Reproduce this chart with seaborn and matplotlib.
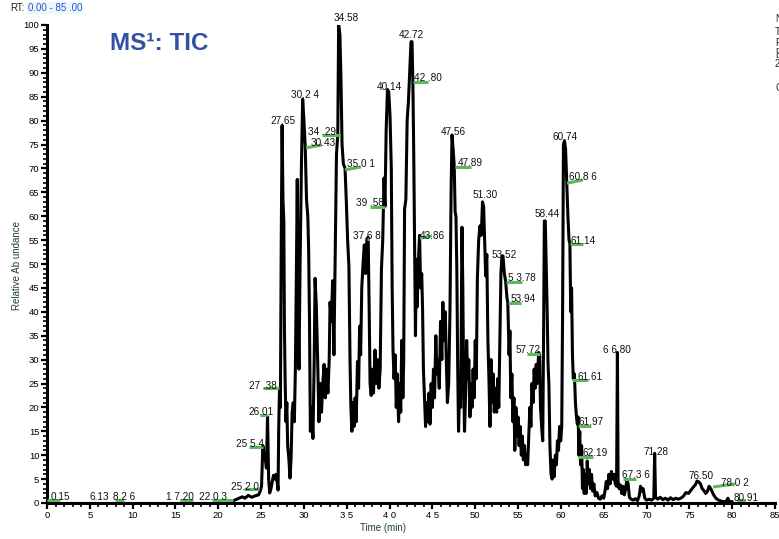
import matplotlib
matplotlib.use("Agg")
import matplotlib.pyplot as plt
import seaborn as sns
import pandas as pd

# ---------------- data ----------------
time_min = [21.8, 22.3, 22.8, 23.1, 23.5, 23.9, 24.3, 24.7, 24.9, 25.05, 25.2, 25.35, 25.5, 25.62, 25.75, 25.88,
            26.0, 26.15, 26.3, 26.45, 26.6, 26.75, 26.9, 26.98, 27.05, 27.15, 27.25, 27.35, 27.45, 27.55, 27.65,
            27.72, 27.8, 27.9, 28.0, 28.1, 28.25, 28.37, 28.5, 28.62, 28.75, 28.88, 29.0, 29.1, 29.22, 29.32,
            29.42, 29.55, 29.7, 29.85, 30.0, 30.15, 30.3, 30.45, 30.55, 30.65, 30.75, 30.9, 31.05, 31.2, 31.3,
            31.45, 31.6, 31.75, 31.9, 32.05, 32.2, 32.35, 32.5, 32.65, 32.8, 32.95, 33.05, 33.2, 33.35, 33.5,
            33.65, 33.8, 33.95, 34.05, 34.2, 34.33, 34.45, 34.6, 34.8, 34.95, 35.1, 35.25, 35.38, 35.48, 35.6,
            35.72, 35.85, 35.98, 36.1, 36.25, 36.38, 36.5, 36.62, 36.75, 36.9, 37.05, 37.2, 37.35, 37.5, 37.62,
            37.72, 37.85, 38.0, 38.12, 38.3, 38.45, 38.6, 38.75, 38.9, 39.05, 39.2, 39.35, 39.46, 39.6, 39.75,
            39.9, 40.05, 40.2, 40.3, 40.4, 40.52, 40.65, 40.78, 40.9, 41.05, 41.18, 41.3, 41.42, 41.55, 41.65,
            41.75, 41.9, 42.05, 42.2, 42.35, 42.5, 42.62, 42.72, 42.82, 42.92, 43.02, 43.12, 43.22, 43.35, 43.5,
            43.62, 43.75, 43.85, 43.95, 44.08, 44.2, 44.32, 44.45, 44.6, 44.72, 44.85, 45.0, 45.12, 45.25, 45.4,
            45.52, 45.65, 45.8, 45.95, 46.1, 46.22, 46.35, 46.5, 46.62, 46.75, 46.9, 47.05, 47.18, 47.29, 47.42,
            47.55, 47.65, 47.75, 47.85, 47.95, 48.05, 48.15, 48.3, 48.45, 48.55, 48.65, 48.75, 48.88, 49.0,
            49.12, 49.25, 49.38, 49.5, 49.62, 49.75, 49.88, 50.0, 50.12, 50.25, 50.4, 50.55, 50.7, 50.85, 50.98,
            51.1, 51.22, 51.35, 51.48, 51.6, 51.72, 51.85, 51.98, 52.1, 52.22, 52.35, 52.5, 52.62, 52.75, 52.88,
            53.0, 53.12, 53.24, 53.4, 53.55, 53.7, 53.8, 53.95, 54.05, 54.15, 54.28, 54.4, 54.52, 54.62, 54.75,
            54.88, 55.0, 55.12, 55.25, 55.38, 55.5, 55.62, 55.75, 55.88, 56.0, 56.12, 56.25, 56.38, 56.5, 56.62,
            56.75, 56.88, 57.0, 57.12, 57.25, 57.4, 57.52, 57.62, 57.75, 57.88, 57.98, 58.07, 58.18, 58.3, 58.4,
            58.5, 58.6, 58.72, 58.85, 58.98, 59.1, 59.22, 59.35, 59.48, 59.6, 59.72, 59.85, 59.98, 60.1, 60.2,
            60.3, 60.42, 60.55, 60.68, 60.82, 60.95, 61.05, 61.15, 61.25, 61.35, 61.45, 61.58, 61.7, 61.82,
            61.92, 62.02, 62.1, 62.2, 62.3, 62.42, 62.52, 62.62, 62.72, 62.85, 62.95, 63.08, 63.2, 63.32, 63.45,
            63.58, 63.7, 63.85, 64.0, 64.2, 64.4, 64.6, 64.8, 65.0, 65.15, 65.3, 65.45, 65.6, 65.75, 65.9, 66.05,
            66.2, 66.35, 66.5, 66.6, 66.68, 66.8, 66.95, 67.1, 67.25, 67.4, 67.55, 67.7, 67.85, 68.0, 68.2,
            68.45, 68.7, 68.95, 69.15, 69.3, 69.45, 69.6, 69.8, 70.0, 70.3, 70.6, 70.85, 70.95, 71.05, 71.3,
            71.6, 71.9, 72.2, 72.5, 72.8, 73.1, 73.4, 73.7, 74.0, 74.3, 74.6, 74.9, 75.2, 75.45, 75.7, 75.9,
            76.1, 76.3, 76.5, 76.7, 76.9, 77.1, 77.3, 77.5, 77.7, 77.9, 78.1, 78.4, 78.7, 79.0, 79.3, 79.5,
            79.65, 80.0]
rel_abundance = [0.5, 0.9, 1.3, 1.0, 1.6, 1.2, 1.5, 1.7, 2.5, 3.5, 12.0, 10.0, 9.0, 7.3, 18.0, 5.0,
                 2.1, 3.0, 4.5, 5.8, 5.0, 6.0, 4.0, 2.7, 15.0, 24.0, 20.0, 55.0, 79.0, 63.5, 59.0,
                 37.0, 26.0, 17.0, 21.0, 12.0, 9.0, 5.2, 9.4, 19.0, 21.0, 17.0, 28.0, 45.0, 67.7, 40.0,
                 28.0, 50.0, 70.0, 84.5, 80.0, 74.6, 63.5, 60.0, 53.0, 38.0, 15.0, 20.0, 13.5, 30.0, 47.0,
                 41.0, 30.0, 17.0, 25.0, 19.0, 25.0, 29.0, 22.0, 28.0, 23.0, 30.0, 42.0, 38.0, 46.5, 31.0,
                 52.0, 73.0, 77.0, 100.0, 98.0, 88.0, 75.0, 71.0, 70.0, 63.0, 55.0, 49.5, 30.0, 20.0, 15.0,
                 21.0, 16.0, 22.0, 17.0, 29.6, 24.0, 37.0, 31.0, 45.0, 50.0, 54.0, 48.0, 55.0, 55.6, 40.0,
                 25.0, 22.5, 28.0, 23.0, 32.0, 25.0, 30.0, 24.0, 28.0, 49.0, 55.0, 68.0, 62.0, 78.0, 86.5,
                 86.0, 81.0, 70.0, 45.0, 32.0, 26.0, 31.0, 20.0, 27.0, 17.0, 25.0, 19.0, 34.0, 22.0, 30.0,
                 61.5, 63.5, 80.0, 84.0, 90.0, 96.5, 96.5, 88.0, 73.0, 55.0, 35.0, 51.0, 41.0, 50.0, 56.0,
                 45.0, 48.0, 40.6, 28.0, 22.0, 16.0, 21.0, 17.0, 23.0, 16.5, 25.0, 20.0, 28.0, 22.0, 35.0,
                 27.0, 30.0, 24.0, 38.0, 30.0, 42.0, 34.0, 40.0, 30.0, 21.0, 25.0, 40.0, 65.0, 77.0, 74.0,
                 70.4, 61.0, 60.0, 49.0, 29.0, 15.0, 22.0, 20.0, 57.7, 45.0, 25.0, 15.0, 23.0, 34.0,
                 26.0, 30.0, 18.0, 25.0, 20.0, 28.0, 22.0, 34.0, 26.0, 47.0, 55.0, 58.0, 56.0, 63.0, 62.0,
                 55.0, 47.5, 52.0, 34.0, 26.0, 16.0, 30.0, 21.0, 27.0, 19.0, 24.0, 19.0, 26.0, 20.0, 35.0,
                 48.0, 51.7, 51.7, 48.0, 46.4, 43.0, 42.0, 31.0, 36.0, 22.0, 27.0, 17.0, 22.0, 11.0, 20.0,
                 14.0, 18.0, 12.0, 16.0, 10.0, 14.0, 9.0, 12.0, 8.0, 10.0, 8.0, 14.0, 20.0, 16.0, 25.0,
                 21.0, 28.0, 24.0, 29.0, 25.0, 31.5, 31.0, 20.0, 16.0, 13.0, 35.0, 59.0, 59.0, 48.5, 40.0,
                 29.0, 25.0, 12.0, 6.0, 5.0, 9.0, 5.5, 10.0, 8.0, 13.0, 11.0, 16.0, 13.0, 16.0, 40.0,
                 75.0, 75.8, 74.0, 67.0, 60.0, 55.0, 54.4, 40.0, 45.0, 31.0, 26.0, 27.0, 21.0, 18.0,
                 16.5, 18.0, 10.0, 15.0, 8.0, 12.0, 3.0, 7.0, 2.0, 6.0, 2.0, 8.8, 4.0, 7.0, 3.0,
                 6.0, 2.5, 4.0, 1.5, 2.2, 1.0, 0.8, 1.5, 1.0, 2.5, 4.5, 3.0, 6.0, 4.0, 6.6, 5.0,
                 6.0, 4.0, 3.5, 31.5, 4.5, 3.0, 3.8, 2.0, 3.5, 1.7, 2.8, 4.8, 4.0, 1.2, 0.8,
                 0.6, 0.9, 0.5, 1.5, 3.5, 2.5, 3.0, 1.0, 0.6, 0.8, 0.6, 1.0, 10.4, 1.2, 0.8,
                 1.2, 0.7, 1.0, 0.6, 1.1, 0.7, 1.0, 0.8, 1.0, 1.4, 2.2, 2.0, 2.7, 3.3, 3.8, 4.6,
                 4.4, 4.0, 3.0, 2.6, 2.0, 2.4, 3.5, 3.0, 2.2, 1.5, 1.0, 0.6, 0.4, 0.3, 0.3, 1.0,
                 0.3, 0.3]

baseline_left_time = [0.0, 21.8]
baseline_right_time = [80.0, 85.0]
baseline_level = [0.3, 0.3]

peak_text = ["0.15", "6.13", "8.2 6", "1 7.20", "22.0 3", "25.2 0", "25 5.4", "26.01", "27 .38", "27.65",
             "30.2 4", "34 .29", "30.43", "34.58", "35.0 1", "39 .58", "37.6 8", "40.14", "42.72", "42 .80",
             "43.86", "47.56", "47.89", "51.30", "53.52", "5 3.78", "53.94", "57.72", "58.44", "60.74",
             "60.8 6", "61.14", "61.61", "61.97", "62.19", "6 6.80", "67.3 6", "71.28", "76.50", "78.0 2",
             "80.91"]
peak_text_time = [1.52, 6.07, 8.99, 15.53, 19.38, 23.12, 23.70, 24.99, 25.22, 27.55,
                  30.12, 32.11, 32.22, 34.91, 36.66, 37.71, 37.36, 39.93, 42.50, 44.48,
                  44.95, 47.40, 49.39, 51.14, 53.36, 55.46, 55.58, 56.16, 58.38, 60.48,
                  62.58, 62.58, 63.40, 63.51, 63.98, 66.55, 68.77, 71.11, 76.36, 80.33,
                  81.61]
peak_text_abund = [1.3, 1.3, 1.3, 1.3, 1.3, 3.35, 12.3, 19.0, 24.5, 79.9,
                   85.4, 77.6, 75.3, 101.5, 70.9, 62.8, 55.9, 87.0, 97.9, 88.9,
                   55.9, 77.6, 71.1, 64.4, 51.9, 47.1, 42.7, 32.0, 60.5, 76.6,
                   68.2, 54.8, 26.4, 16.9, 10.5, 32.0, 5.9, 10.7, 5.6, 4.2,
                   1.05]

# green peak markers: start time/abundance, end time/abundance
marker_t0 = [0.0, 7.94, 15.53, 19.26, 23.0, 23.58, 24.87, 25.22, 32.11, 30.24, 34.79, 37.71, 37.36,
             42.73, 43.55, 47.64, 60.71, 61.06, 53.59, 53.82, 56.04, 61.3, 62.0, 62.0, 67.25, 77.76, 80.56]
marker_v0 = [0.63, 0.63, 0.63, 0.63, 2.9, 11.7, 18.4, 24.1, 77.0, 74.3, 69.7, 61.9, 55.2,
             88.1, 55.4, 70.3, 66.9, 54.2, 46.2, 41.8, 31.2, 25.7, 16.1, 9.6, 5.0, 3.35, 0.63]
marker_t1 = [1.52, 8.99, 17.05, 21.72, 24.75, 25.22, 25.69, 27.09, 34.21, 32.11, 36.66, 39.46, 37.6,
             44.48, 44.95, 49.5, 62.58, 62.58, 55.46, 55.34, 57.56, 63.16, 63.51, 63.75, 68.77, 80.33, 81.5]
marker_v1 = [0.63, 0.63, 0.63, 0.63, 2.9, 11.7, 18.4, 24.1, 77.0, 74.9, 70.3, 61.9, 55.2,
             88.1, 55.9, 70.3, 67.6, 54.2, 46.2, 41.8, 31.2, 25.7, 16.1, 9.6, 5.0, 4.0, 0.63]

x_ticks = [0, 5, 10, 15, 20, 25, 30, 35, 40, 45, 50, 55, 60, 65, 70, 75, 80, 85]
x_tick_labels = ["0", "5", "10", "15", "20", "25", "30", "3 5", "4 0", "4 5", "50", "55", "60", "65",
                 "70", "75", "80", "85"]
y_ticks = [0, 5, 10, 15, 20, 25, 30, 35, 40, 45, 50, 55, 60, 65, 70, 75, 80, 85, 90, 95, 100]

header_right_text = ["N", "T", "F", "[4", "2", "C"]

# ---------------- plot ----------------
sns.set_theme(style="ticks")
plt.rcParams['font.family'] = ['Liberation Sans', 'DejaVu Sans']

W, H = 779, 539
fig = plt.figure(figsize=(W / 100, H / 100), dpi=100)
fig.patch.set_facecolor("white")
ax = fig.add_axes([47 / W, 1 - 503 / H, 728 / W, 478 / H])
ax.set_facecolor("white")

df = pd.DataFrame({"Time (min)": time_min, "Relative Abundance": rel_abundance})
sns.lineplot(data=df, x="Time (min)", y="Relative Abundance", ax=ax, color="black",
             linewidth=2.2, estimator=None, sort=False, legend=False)
ax.plot(baseline_left_time, baseline_level, color="#444444", lw=0.8, ls=(0, (1, 1.5)))
ax.plot(baseline_right_time, baseline_level, color="#444444", lw=0.8, ls=(0, (1, 1.5)))

green = "#5cb85c"
for t0, v0, t1, v1 in zip(marker_t0, marker_v0, marker_t1, marker_v1):
    ax.plot([t0, t1], [v0, v1], color=green, lw=2.2, solid_capstyle="butt", zorder=3)

for s, t, v in zip(peak_text, peak_text_time, peak_text_abund):
    ax.text(t, v, s, ha="center", va="center", fontsize=7.2, color="#111111", zorder=4, clip_on=False)

ax.set_xlim(0, 85)
ax.set_ylim(0, 100)
ax.set_xticks(x_ticks)
ax.set_xticklabels(x_tick_labels)
ax.set_yticks(y_ticks)
ax.set_xticks(list(range(0, 86)), minor=True)
ax.set_yticks(list(range(0, 101)), minor=True)
ax.tick_params(axis="both", which="major", direction="out", length=4, width=1.6,
               labelsize=6.8, pad=1.5, colors="black")
ax.tick_params(axis="both", which="minor", direction="out", length=3, width=1.4)
ax.set_xlabel("")
ax.set_ylabel("")
for side in ["top", "right"]:
    ax.spines[side].set_visible(False)
for side in ["left", "bottom"]:
    ax.spines[side].set_linewidth(2.2)
    ax.spines[side].set_color("black")
ax.grid(False)

fig.text(383 / W, 1 - 528 / H, "Time (min)", ha="center", va="center", fontsize=7, color="#1f3d3d")
fig.text(17 / W, 1 - 266 / H, "Relative Ab undance", ha="center", va="center", rotation=90,
         fontsize=7, color="#1f3d3d")

fig.text(110 / W, 1 - 50 / H, "MS\u00b9: TIC", ha="left", va="baseline", fontsize=17.5,
         fontweight="bold", color="#3450a4")

fig.text(10 / W, 1 - 8 / H, "RT:", ha="left", va="center", fontsize=7, color="#222222")
fig.text(28 / W, 1 - 8 / H, "0.00 - 85 .00", ha="left", va="center", fontsize=7, color="#2255cc",
         bbox=dict(facecolor="#eef8fb", edgecolor="none", pad=0.8))

for s, py in zip(header_right_text, [19, 32, 43, 53, 64, 88]):
    fig.text(775 / W, 1 - py / H, s, ha="left", va="center", fontsize=7, color="#222222")

fig.savefig("out.png", dpi=100)
